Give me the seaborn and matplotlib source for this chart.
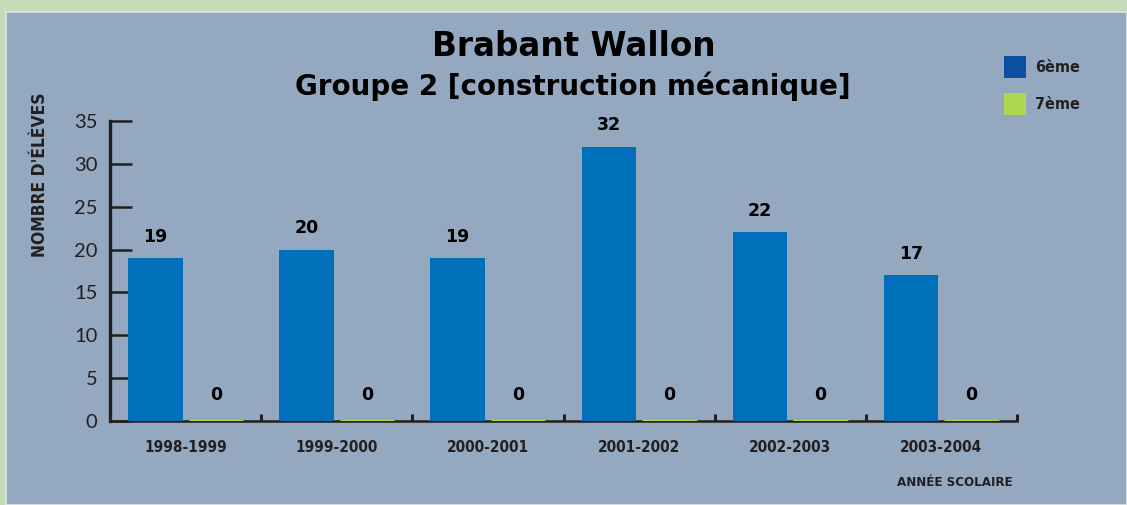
import matplotlib
matplotlib.use("Agg")
import matplotlib.pyplot as plt
import matplotlib.patches as mpatches
from matplotlib import font_manager
import seaborn as sns
import pandas as pd

years = ["1998-1999", "1999-2000", "2000-2001", "2001-2002", "2002-2003", "2003-2004"]
sixieme = [19, 20, 19, 32, 22, 17]
septieme = [0, 0, 0, 0, 0, 0]
series_names = ["6ème", "7ème"]
yticks = [0, 5, 10, 15, 20, 25, 30, 35]

BAR_COLORS = {"6ème": "#0070bb", "7ème": "#acd94f"}
LEGEND_COLORS = {"6ème": "#0a4fa0", "7ème": "#acd94f"}
PANEL = "#94a8c0"
OUTER = "#c6d9b9"
DARK = "#231f20"

sns.set_theme(style="white")
plt.rcParams["font.family"] = ["DejaVu Sans"]

names = {f.name for f in font_manager.fontManager.ttflist}
if "Liberation Sans Narrow" in names:
    COND = dict(family="Liberation Sans Narrow")
else:
    COND = dict(family="DejaVu Sans", stretch="condensed")

df = pd.DataFrame({
    "year": years * 2,
    "series": [series_names[0]] * len(years) + [series_names[1]] * len(years),
    "value": sixieme + septieme,
})

W, H = 1127, 505
fig = plt.figure(figsize=(W / 100, H / 100), dpi=100)
fig.patch.set_facecolor(OUTER)
fig.patches.append(mpatches.Rectangle((6 / W, 0), 1 - 6 / W, 1 - 12 / H, transform=fig.transFigure,
                                      facecolor=PANEL, edgecolor="#dfe6ea", linewidth=1.2, zorder=-10))

ax = fig.add_axes([110 / W, 84 / H, (1017 - 110) / W, 300 / H])
ax.set_facecolor(PANEL)
ax.patch.set_alpha(0)

sns.barplot(data=df, x="year", y="value", hue="series", palette=BAR_COLORS,
            width=0.8, gap=0.1, ax=ax, legend=False, saturation=1, linewidth=0)

for cont, name in zip(ax.containers, series_names):
    for rect, v in zip(cont, df[df.series == name]["value"]):
        if name == "7ème":
            rect.set_edgecolor(BAR_COLORS[name])
            rect.set_linewidth(2.2)
        rect.set_zorder(3)
        ax.annotate(f"{v:g}", (rect.get_x() + rect.get_width() / 2, rect.get_height()),
                    xytext=(0, 9 if v > 0 else 12), textcoords="offset points", ha="center", va="bottom",
                    fontsize=12.5, fontweight="bold", color="black")

ax.set_xlim(-0.5, len(years) - 0.5)
ax.set_ylim(0, 35)
ax.set_yticks(yticks)
ax.set_yticklabels([str(t) for t in yticks], family=["Lato", "DejaVu Sans"], fontsize=14.5, color=DARK)
ax.tick_params(axis="y", direction="in", length=16, width=1.8, color=DARK, pad=9, left=True)
ax.set_xticks(range(len(years)))
ax.set_xticklabels(years, fontsize=11, fontweight="bold", color=DARK, **COND)
ax.tick_params(axis="x", which="major", length=0, pad=14)
ax.set_xticks([i + 0.5 for i in range(len(years))], minor=True)
ax.tick_params(axis="x", which="minor", direction="in", length=5, width=2.2, color=DARK, bottom=True)

for s in ["top", "right"]:
    ax.spines[s].set_visible(False)
ax.spines["left"].set_color(DARK)
ax.spines["left"].set_linewidth(2.4)
ax.spines["bottom"].set_color(DARK)
ax.spines["bottom"].set_linewidth(1.8)
ax.set_xlabel("")
ax.set_ylabel("")

fig.text(574 / W, 1 - 47 / H, "Brabant Wallon", ha="center", va="center",
         fontsize=23.5, fontweight="bold", color="black")
fig.text(573 / W, 1 - 86 / H, "Groupe 2 [construction mécanique]", ha="center", va="center",
         fontsize=20, fontweight="bold", color="black")
fig.text(40 / W, 1 - 175 / H, "NOMBRE D'ÉLÈVES", rotation=90, ha="center", va="center",
         fontsize=12.5, fontweight="bold", color=DARK, **COND)
fig.text(955 / W, 1 - 483 / H, "ANNÉE SCOLAIRE", ha="center", va="center",
         fontsize=9.5, fontweight="bold", color=DARK, **COND)

handles = [mpatches.Patch(facecolor=LEGEND_COLORS[n], edgecolor="none", label=n) for n in series_names]
leg = fig.legend(handles=handles, loc="upper left", bbox_to_anchor=(1004 / W, 1 - 56 / H),
                 frameon=False, handlelength=1.4, handleheight=1.75, labelspacing=0.95,
                 handletextpad=0.55, borderpad=0, borderaxespad=0,
                 prop=dict(size=11.5, weight="bold", **COND))
for t in leg.get_texts():
    t.set_color(DARK)

fig.savefig("out.png", dpi=100, facecolor=OUTER)
